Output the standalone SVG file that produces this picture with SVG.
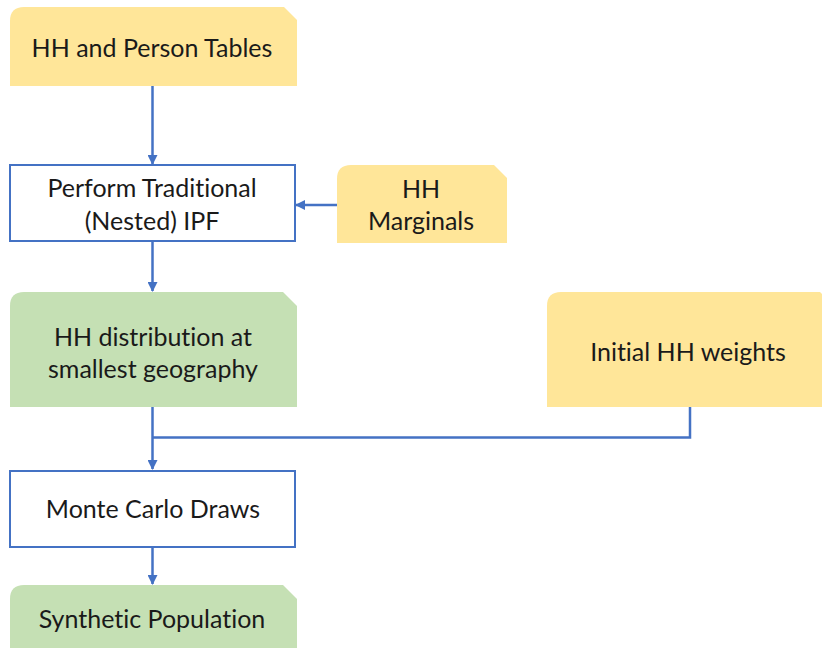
<svg xmlns="http://www.w3.org/2000/svg" width="822" height="648" viewBox="0 0 822 648">
<defs>
<style>
.y{fill:#FFE699}
.g{fill:#C5E0B4}
.w{fill:#FFFFFF;stroke:#4472C4;stroke-width:2}
text{font-family:Lato,"Open Sans","Liberation Sans",sans-serif;font-size:25px;fill:#1a1a1a;text-anchor:middle;font-variant-ligatures:none;font-feature-settings:"liga" 0}
.c{fill:none;stroke:#4472C4;stroke-width:2.5}
</style>
<marker id="a" viewBox="0 0 10 10" refX="9" refY="5" markerWidth="4" markerHeight="4" orient="auto" markerUnits="strokeWidth">
<path d="M0,0 L10,5 L0,10 z" fill="#4472C4"/>
</marker>
</defs>
<rect width="822" height="648" fill="#FFFFFF"/>
<g id="connectors">
<path class="c" d="M152.5,86 V164" marker-end="url(#a)"/>
<path class="c" d="M337,205 H296" marker-end="url(#a)"/>
<path class="c" d="M152.5,242 V291" marker-end="url(#a)"/>
<path class="c" d="M152.5,407 V469" marker-end="url(#a)"/>
<path class="c" d="M690,407 V437.5 H152.5"/>
<path class="c" d="M152.5,548 V584" marker-end="url(#a)"/>
</g>
<g id="hh-person-tables">
<path class="y" d="M10,86 V21 Q10,7 24,7 H284 L297,20 V86 Z"/>
<text x="152" y="57">HH and Person Tables</text>
</g>
<g id="perform-ipf">
<rect class="w" x="10" y="165" width="285" height="76"/>
<text x="152" y="197">Perform Traditional</text>
<text x="152" y="230">(Nested) IPF</text>
</g>
<g id="hh-marginals">
<path class="y" d="M337,243 V179 Q337,165 351,165 H494 L507,178 V243 Z"/>
<text x="421" y="198">HH</text>
<text x="421" y="230">Marginals</text>
</g>
<g id="hh-distribution">
<path class="g" d="M10,407 V306 Q10,292 24,292 H283 L297,306 V407 Z"/>
<text x="153" y="346">HH distribution at</text>
<text x="153" y="378">smallest geography</text>
</g>
<g id="initial-weights">
<path class="y" d="M547,407 V306 Q547,292 561,292 H820 L834,306 V407 Z"/>
<text x="688" y="361">Initial HH weights</text>
</g>
<g id="monte-carlo">
<rect class="w" x="10" y="471" width="285" height="76"/>
<text x="153" y="518">Monte Carlo Draws</text>
</g>
<g id="synthetic-population">
<path class="g" d="M10,660 V599 Q10,585 24,585 H283 L297,599 V660 Z"/>
<text x="152" y="628">Synthetic Population</text>
</g>
</svg>
